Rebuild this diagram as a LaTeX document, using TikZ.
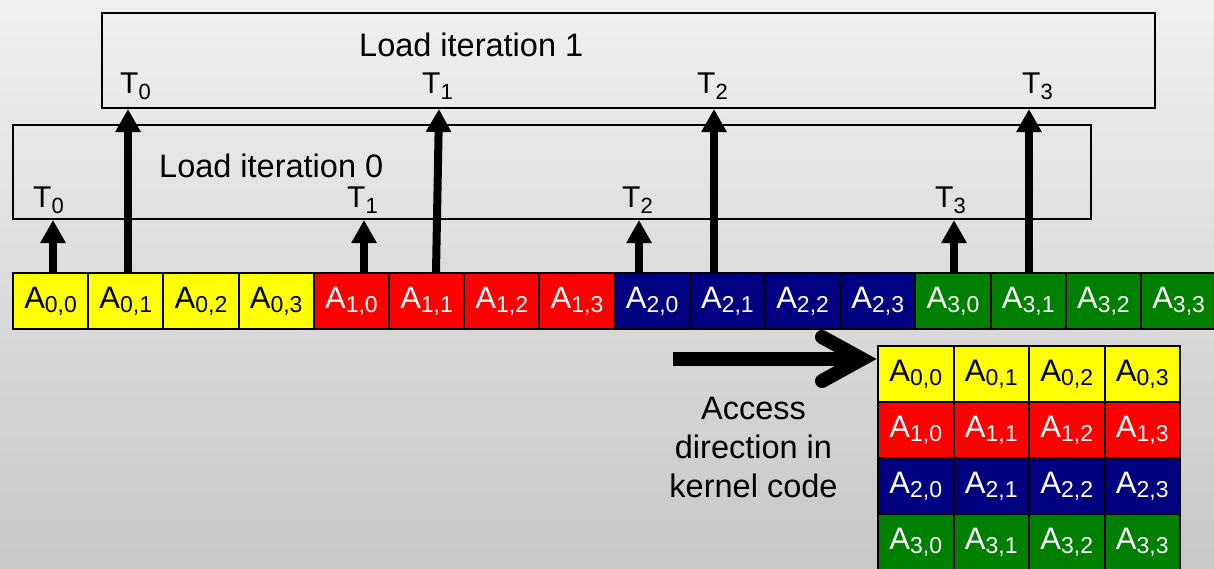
\documentclass[tikz,border=0pt]{standalone}
\usepackage{fontspec}
\setmainfont{Liberation Sans}
\usetikzlibrary{arrows.meta,calc}
\definecolor{cyel}{HTML}{FFFF00}
\definecolor{cred}{HTML}{FF0000}
\definecolor{cnavy}{HTML}{000080}
\definecolor{cgreen}{HTML}{008000}
\definecolor{bgtop}{RGB}{240,240,240}
\definecolor{bgbot}{RGB}{199,199,199}
\newcommand\Acell[2]{{\fontsize{31}{31}\selectfont A}\raisebox{-4pt}{\fontsize{23}{23}\selectfont #1,#2}}
\newcommand\Tlab[1]{{\fontsize{30}{30}\selectfont T}\raisebox{-6pt}{\fontsize{22}{22}\selectfont #1}}
\tikzset{
  cell/.style={draw=black, line width=2pt, minimum width=75.2pt, minimum height=56pt, inner sep=0pt},
  gcell/.style={cell, minimum width=75.5pt},
  loadbox/.style={draw=black, line width=2pt, inner sep=0pt},
  tlab/.style={inner sep=0pt, anchor=base west},
  ltxt/.style={inner sep=0pt, anchor=base west, font=\fontsize{32.5}{32.5}\selectfont},
  uparrow/.style={line width=8pt, -{Triangle[width=24pt,length=23pt]}},
}
\begin{document}
\begin{tikzpicture}[x=1pt,y=-1pt]
\useasboundingbox (0,0) rectangle (1214,568);
\shade[top color=bgtop,bottom color=bgbot] (0,0) rectangle (1214,568);
% boxes
\node[loadbox, minimum width=1078pt, minimum height=94pt] (box0) at (552,172) {};
\node[loadbox, minimum width=1053pt, minimum height=95pt] (box1) at (628.5,60.5) {};
\node[ltxt] (l0) at (159,177) {Load iteration 0};
\node[ltxt] (l1) at (359,56) {Load iteration 1};
% linear row and 4x4 grid
\foreach \r/\col/\tc in {0/cyel/black,1/cred/white,2/cnavy/white,3/cgreen/white}{
  \foreach \c in {0,...,3}{
    \pgfmathtruncatemacro\i{4*\r+\c}
    \node[cell, fill=\col, text=\tc] (c\i) at ({50.6+75.2*\i},301) {\Acell{\r}{\c}};
    \node[gcell, fill=\col, text=\tc] (g\r\c) at ({915.75+75.5*\c},{374+56*\r}) {\Acell{\r}{\c}};
  }
}
% T labels
\node[tlab] (t00) at (33,207) {\Tlab{0}};
\node[tlab] (t01) at (347,207) {\Tlab{1}};
\node[tlab] (t02) at (622,207) {\Tlab{2}};
\node[tlab] (t03) at (935,207) {\Tlab{3}};
\node[tlab] (t10) at (120,93) {\Tlab{0}};
\node[tlab] (t11) at (422,93) {\Tlab{1}};
\node[tlab] (t12) at (697,93) {\Tlab{2}};
\node[tlab] (t13) at (1022,93) {\Tlab{3}};
% arrow x positions
\coordinate (s0) at (53,0);
\coordinate (s1) at (364,0);
\coordinate (s2) at (639,0);
\coordinate (s3) at (954,0);
\coordinate (u0) at (128,0);
\coordinate (u1a) at (436,0);
\coordinate (u1b) at (439,0);
\coordinate (u2) at (714,0);
\coordinate (u3) at (1029,0);
\draw[uparrow] (s0 |- c0.north) -- (s0 |- box0.south);
\draw[uparrow] (s1 |- c4.north) -- (s1 |- box0.south);
\draw[uparrow] (s2 |- c8.north) -- (s2 |- box0.south);
\draw[uparrow] (s3 |- c12.north) -- (s3 |- box0.south);
\draw[uparrow] (u0 |- c1.north) -- (u0 |- box1.south);
\draw[uparrow] (u1a |- c5.north) -- (u1b |- box1.south);
\draw[uparrow] (u2 |- c9.north) -- (u2 |- box1.south);
\draw[uparrow] (u3 |- c13.north) -- (u3 |- box1.south);
% access arrow
\coordinate (ba0) at (673,359);
\coordinate (ba1) at (862,359);
\coordinate (bu) at (822,337);
\coordinate (bd) at (822,381);
\draw[line width=14pt] (ba0) -- (ba1);
\draw[line width=14pt, line cap=round, line join=miter] (bu) -- (ba1) -- (bd);
\node[inner sep=0pt, anchor=north, align=center, font=\fontsize{32.5}{39}\selectfont] (acc) at (753.5,396.5) {Access\\direction in\\kernel code};
\end{tikzpicture}
\end{document}
